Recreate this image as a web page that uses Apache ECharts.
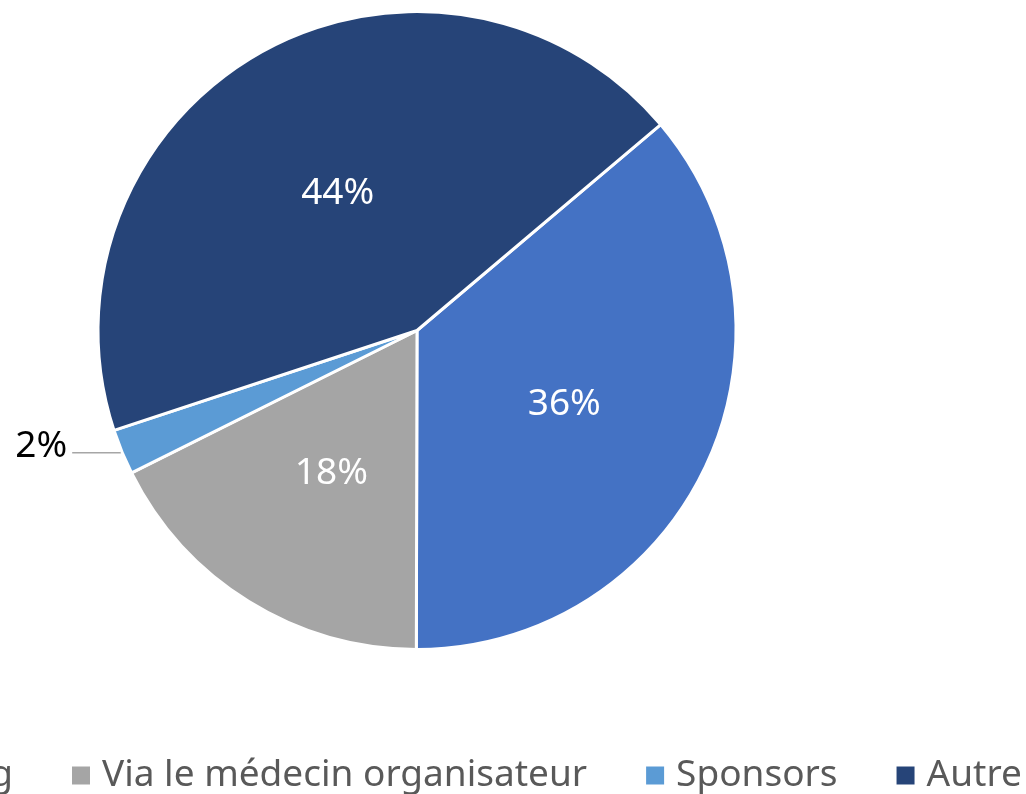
<!DOCTYPE html>
<html>
<head>
<meta charset="utf-8">
<script src="https://cdn.jsdelivr.net/npm/echarts@6/dist/echarts.min.js"></script>
<style>
html,body{margin:0;padding:0;background:#fff;}
#chart{width:1026px;height:794px;}
</style>
</head>
<body>
<div id="chart"></div>
<script>
const categories = ["Mailing", "Via le médecin organisateur", "Sponsors", "Autre"];
const values = [36.2, 17.6, 2.3, 43.9];
const colors = ["#4472C4", "#A5A5A5", "#5B9BD5", "#264478"];

const FONT = "'Noto Sans'";
const legendFont = 37;
// measure first legend item to place the legend so that the second marker lands where the reference shows it
const cv = document.createElement("canvas").getContext("2d");
cv.font = legendFont + "px " + FONT;
const firstW = cv.measureText(categories[0]).width;
const itemGap = 57;
const legendLeft = 69 - (20 + 5 + 6 + firstW + itemGap);

const chart = echarts.init(document.getElementById("chart"), null, {renderer: "canvas"});
const data = categories.map((c, i) => {
  const d = {name: c, value: values[i], itemStyle: {color: colors[i]}};
  if (i === 2) {
    d.label = {position: "outside", color: "#000000", offset: [0, -6]};
    d.labelLine = {show: true, length: 2, length2: 48, lineStyle: {color: "#A6A6A6", width: 1.5}};
  }
  return d;
});
chart.setOption({
  animation: false,
  backgroundColor: "#ffffff",
  legend: {
    data: categories,
    orient: "horizontal",
    left: legendLeft,
    top: 757,
    padding: 0,
    itemWidth: 20,
    itemHeight: 20,
    itemGap: itemGap,
    icon: "rect",
    textStyle: {fontFamily: FONT, fontSize: legendFont, lineHeight: 20, color: "#595959", padding: [0, 0, 0, 6]}
  },
  series: [{
    type: "pie",
    center: [417, 330.5],
    radius: [0, 319],
    startAngle: 90 - 49.8,
    clockwise: true,
    avoidLabelOverlap: false,
    data: data,
    itemStyle: {borderColor: "#ffffff", borderWidth: 3},
    label: {
      show: true,
      position: "inside",
      fontFamily: FONT,
      fontSize: 37,
      color: "#ffffff",
      offset: [0, 5],
      formatter: p => Math.round(p.percent) + "%"
    },
    labelLine: {show: false},
    emphasis: {disabled: true}
  }]
});
</script>
</body>
</html>
